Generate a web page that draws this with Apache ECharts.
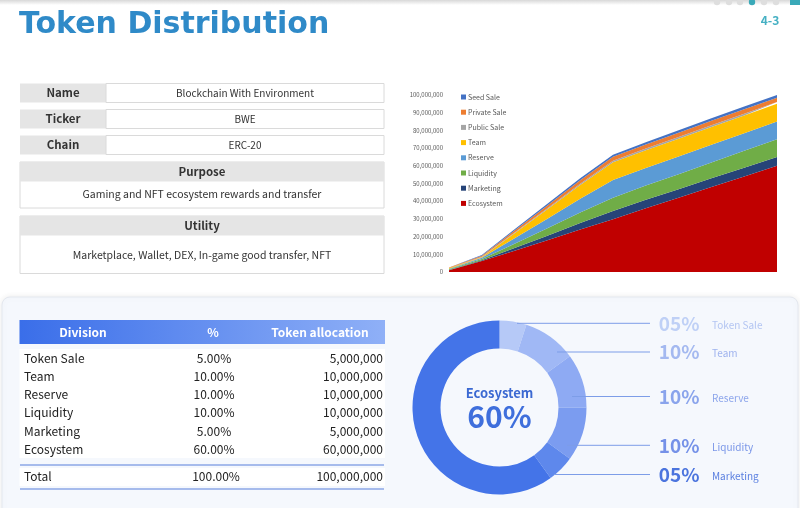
<!DOCTYPE html>
<html><head><meta charset="utf-8">
<script src="https://cdn.jsdelivr.net/npm/echarts@6/dist/echarts.min.js"></script>
<style>html,body{margin:0;padding:0;background:#fff}#c{width:800px;height:508px}</style>
</head><body><div id="c"></div>
<script>
// ---------- DATA ----------
const periods = ['1','2','3','4','5','6','7','8','9','10','11'];
const ecosystem = [1000000, 6200000, 12000000, 17900000, 24000000, 29800000, 36000000, 41900000, 48000000, 54000000, 60000000];
const marketing = [200000, 400000, 1500000, 2600000, 3700000, 4700000, 4800000, 4850000, 4900000, 4950000, 5000000];
const liquidity = [400000, 800000, 2500000, 4200000, 5900000, 7500000, 8000000, 8500000, 9000000, 9500000, 10000000];
const reserve = [300000, 600000, 3000000, 5400000, 7800000, 10000000, 10000000, 10000000, 10000000, 10000000, 10000000];
const team = [300000, 400000, 2900000, 5300000, 7700000, 10000000, 10000000, 10000000, 10000000, 10000000, 10000000];
const publicSale = [100000, 200000, 400000, 600000, 800000, 900000, 950000, 1000000, 1000000, 1000000, 1000000];
const privateSale = [200000, 600000, 1200000, 1600000, 2000000, 2200000, 2300000, 2400000, 2500000, 2500000, 2500000];
const seedSale = [100000, 400000, 700000, 900000, 1100000, 1200000, 1300000, 1400000, 1400000, 1500000, 1500000];
const yTicks = [0, 10000000, 20000000, 30000000, 40000000, 50000000, 60000000, 70000000, 80000000, 90000000, 100000000];

const infoLabels = ['Name', 'Ticker', 'Chain'];
const infoValues = ['Blockchain With Environment', 'BWE', 'ERC-20'];
const purposeText = 'Gaming and NFT ecosystem rewards and transfer';
const utilityText = 'Marketplace, Wallet, DEX, In-game good transfer, NFT';

const divisions = ['Token Sale', 'Team', 'Reserve', 'Liquidity', 'Marketing', 'Ecosystem'];
const divisionPct = [5, 10, 10, 10, 5, 60];
const divisionTokens = [5000000, 10000000, 10000000, 10000000, 5000000, 60000000];
const totalPct = 100;
const totalTokens = 100000000;

// ---------- LAYOUT / STYLE ----------
const areaColors = {Ecosystem:'#c00000', Marketing:'#264478', Liquidity:'#70ad47', Reserve:'#5b9bd5', Team:'#ffc000', 'Public Sale':'#a5a5a5', 'Private Sale':'#ed7d31', 'Seed Sale':'#4472c4'};
const pieColors = ['#b6c9f7', '#a0b8f5', '#8eaaf3', '#7b9cf0', '#5e88ec', '#4474e8'];
const pctColors = ['#bfd0f6', '#a4b9f0', '#8aa4ec', '#7591e8', '#4b74de'];
const nameColors = ['#b3c5f2', '#9fb3ee', '#8ca5eb', '#7b97e8', '#5a7fe0'];
const leaderY = [323.3, 352, 396.5, 445.3, 474.5];
const leaderX0 = [517, 557, 572, 567, 554];
const FONT = "'Noto Sans CJK KR', 'Noto Sans', sans-serif";

const chart = echarts.init(document.getElementById('c'), null, {renderer:'canvas'});
const fmt = v => v.toLocaleString('en-US');

const g = [];
// top shadow
g.push({type:'rect', shape:{x:0,y:0,width:800,height:5}, style:{fill:new echarts.graphic.LinearGradient(0,0,0,1,[{offset:0,color:'#d8d8d8'},{offset:1,color:'#ffffff'}])}, z:1});
// pager dots
[717,729,740,752,764,776].forEach((x,i)=>g.push({type:'circle', shape:{cx:x,cy:2,r:3.2}, style:{fill: i===3?'#3aa9b8':'#dedede'}, z:2}));
g.push({type:'rect', shape:{x:790,y:0,width:10,height:5}, style:{fill:'#3aa9b8'}, z:2});
g.push({type:'text', style:{text:'4-3', x:770, y:20, align:'center', verticalAlign:'middle', font:"bold 12px "+FONT, fill:'#45b0c3'}});
// title
g.push({type:'text', style:{text:'Token Distribution', x:19, y:25.5, verticalAlign:'middle', font:"bold 30px 'DejaVu Sans', sans-serif", fill:'#2f8ac8'}});

// info rows
const rowTops = [83.5, 109.5, 135.5];
infoLabels.forEach((lab,i)=>{
  const y = rowTops[i];
  g.push({type:'rect', shape:{x:20,y:y,width:86,height:19}, style:{fill:'#e5e5e5'}});
  g.push({type:'rect', shape:{x:106,y:y,width:278,height:19}, style:{fill:'#fff', stroke:'#dadada', lineWidth:1}});
  g.push({type:'text', style:{text:lab, x:63, y:y+9.5, align:'center', verticalAlign:'middle', font:"bold 11.5px "+FONT, fill:'#333'}});
  g.push({type:'text', style:{text:infoValues[i], x:245, y:y+9.5, align:'center', verticalAlign:'middle', font:"10px "+FONT, fill:'#333'}});
});
// purpose
g.push({type:'rect', shape:{x:20,y:162,width:364,height:46}, style:{fill:'#fff', stroke:'#dadada', lineWidth:1}});
g.push({type:'rect', shape:{x:20,y:162,width:364,height:19.5}, style:{fill:'#e5e5e5'}});
g.push({type:'text', style:{text:'Purpose', x:202, y:172, align:'center', verticalAlign:'middle', font:"bold 11.5px "+FONT, fill:'#333'}});
g.push({type:'text', style:{text:purposeText, x:202, y:194.5, align:'center', verticalAlign:'middle', font:"10.5px "+FONT, fill:'#333'}});
// utility
g.push({type:'rect', shape:{x:20,y:216,width:364,height:57.5}, style:{fill:'#fff', stroke:'#dadada', lineWidth:1}});
g.push({type:'rect', shape:{x:20,y:216,width:364,height:19.5}, style:{fill:'#e5e5e5'}});
g.push({type:'text', style:{text:'Utility', x:202, y:226, align:'center', verticalAlign:'middle', font:"bold 11.5px "+FONT, fill:'#333'}});
g.push({type:'text', style:{text:utilityText, x:202, y:255, align:'center', verticalAlign:'middle', font:"10.5px "+FONT, fill:'#333'}});

// bottom panel
g.push({type:'rect', shape:{x:2,y:297,width:796,height:225,r:8}, style:{fill:'#f5f8fd', stroke:'#e4e8ef', lineWidth:1, shadowBlur:6, shadowColor:'rgba(0,0,0,0.08)'}, z:-10});
// table header
g.push({type:'rect', shape:{x:19.5,y:320,width:365.5,height:24}, style:{fill:new echarts.graphic.LinearGradient(0,0,1,0,[{offset:0,color:'#3a6ee9'},{offset:1,color:'#8fb0f7'}])}});
[['Division',83],['%',213],['Token allocation',320]].forEach(h=>g.push({type:'text', style:{text:h[0], x:h[1], y:332, align:'center', verticalAlign:'middle', font:"bold 12px "+FONT, fill:'#fff'}}));
g.push({type:'rect', shape:{x:19.5,y:349,width:365.5,height:109}, style:{fill:'#ffffff'}});
g.push({type:'rect', shape:{x:19.5,y:468,width:365.5,height:18}, style:{fill:'#ffffff'}});
divisions.forEach((d,i)=>{
  const y = 358 + i*18.3;
  g.push({type:'text', style:{text:d, x:24, y:y, verticalAlign:'middle', font:"12px "+FONT, fill:'#222'}});
  g.push({type:'text', style:{text:divisionPct[i].toFixed(2)+'%', x:214, y:y, align:'center', verticalAlign:'middle', font:"12px "+FONT, fill:'#222'}});
  g.push({type:'text', style:{text:fmt(divisionTokens[i]), x:383, y:y, align:'right', verticalAlign:'middle', font:"12px "+FONT, fill:'#222'}});
});
g.push({type:'line', shape:{x1:20,y1:465,x2:384,y2:465}, style:{stroke:'#8ba7e6', lineWidth:1.5}});
g.push({type:'text', style:{text:'Total', x:24, y:476.7, verticalAlign:'middle', font:"12px "+FONT, fill:'#222'}});
g.push({type:'text', style:{text:totalPct.toFixed(2)+'%', x:216, y:476.7, align:'center', verticalAlign:'middle', font:"12px "+FONT, fill:'#222'}});
g.push({type:'text', style:{text:fmt(totalTokens), x:383, y:476.7, align:'right', verticalAlign:'middle', font:"12px "+FONT, fill:'#222'}});
g.push({type:'line', shape:{x1:20,y1:489,x2:384,y2:489}, style:{stroke:'#8ba7e6', lineWidth:1.5}});

// donut center text
g.push({type:'text', style:{text:divisions[5], x:499.5, y:393, align:'center', verticalAlign:'middle', font:"bold 13px "+FONT, fill:'#3b69d2'}, z:10});
g.push({type:'text', style:{text:divisionPct[5]+'%', x:499.5, y:417, align:'center', verticalAlign:'middle', font:"bold 30px "+FONT, fill:'#3f6fdc'}, z:10});
// leader lines & labels
for (let i=0;i<5;i++){
  const y = leaderY[i];
  g.push({type:'line', shape:{x1:leaderX0[i],y1:y,x2:650,y2:y}, style:{stroke:'#7d9de8', lineWidth:1}, z:10});
  g.push({type:'text', style:{text:String(divisionPct[i]).padStart(2,'0')+'%', x:699.5, y:y, align:'right', verticalAlign:'middle', font:"bold 19px "+FONT, fill:pctColors[i]}, z:10});
  g.push({type:'text', style:{text:divisions[i], x:712, y:y+1.5, verticalAlign:'middle', font:"10px "+FONT, fill:nameColors[i]}, z:10});
}

const stackOrder = [['Ecosystem',ecosystem],['Marketing',marketing],['Liquidity',liquidity],['Reserve',reserve],['Team',team],['Public Sale',publicSale],['Private Sale',privateSale],['Seed Sale',seedSale]];
const areaSeries = stackOrder.map(([name,data])=>({
  name, type:'line', stack:'total', data, symbol:'none', silent:true,
  lineStyle:{width:0}, areaStyle:{color:areaColors[name], opacity:1}, itemStyle:{color:areaColors[name]}
}));

chart.setOption({
  animation:false,
  backgroundColor:'#ffffff',
  textStyle:{fontFamily:FONT},
  grid:{left:449, top:95, width:328, height:177, containLabel:false},
  legend:{
    data:['Seed Sale','Private Sale','Public Sale','Team','Reserve','Liquidity','Marketing','Ecosystem'],
    orient:'vertical', left:456, top:88, itemWidth:5, itemHeight:5, itemGap:7.2, icon:'rect',
    textStyle:{fontSize:7, color:'#595959', lineHeight:8, padding:[0,0,0,-3]}, selectedMode:false
  },
  xAxis:{type:'category', data:periods, boundaryGap:false, show:false},
  yAxis:{type:'value', min:yTicks[0], max:yTicks[yTicks.length-1], interval:yTicks[1]-yTicks[0],
    axisLine:{show:false}, axisTick:{show:false}, splitLine:{show:false},
    axisLabel:{fontSize:6, color:'#595959', margin:6, formatter:v=>fmt(v)}},
  series:[...areaSeries, {
    type:'pie', center:[499.5,407.5], radius:[59,87], startAngle:90, clockwise:true, silent:true,
    label:{show:false}, labelLine:{show:false},
    data:divisions.map((d,i)=>({name:d, value:divisionPct[i], itemStyle:{color:pieColors[i]}}))
  }],
  graphic:g
});
</script></body></html>
